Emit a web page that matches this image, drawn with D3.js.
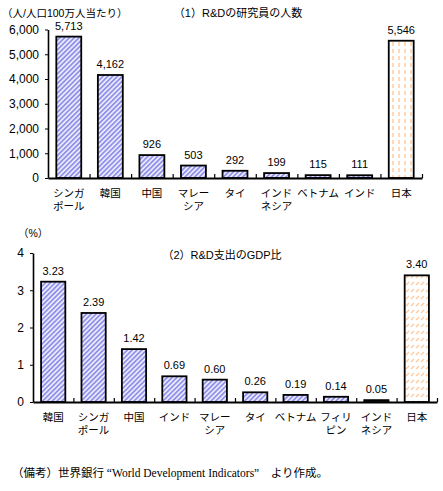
<!DOCTYPE html>
<html>
<head>
<meta charset="utf-8">
<script src="https://cdn.jsdelivr.net/npm/d3@7"></script>
<style>
  body { margin: 0; background: #fff; }
  svg text { font-family: "Liberation Sans", "Noto Sans CJK JP", sans-serif; fill: #000; }
  .axis path, .axis line { stroke: #000; }
  .note { font-family: "Liberation Serif", "Noto Sans CJK JP", serif; }
</style>
</head>
<body>
<div id="chart"></div>
<script>
// data
var researchCats = [["シンガ", "ポール"], ["韓国"], ["中国"], ["マレー", "シア"], ["タイ"], ["インド", "ネシア"], ["ベトナム"], ["インド"], ["日本"]];
var researchVals = [5713, 4162, 926, 503, 292, 199, 115, 111, 5546];
var researchTicks = [0, 1000, 2000, 3000, 4000, 5000, 6000];

var gdpCats = [["韓国"], ["シンガ", "ポール"], ["中国"], ["インド"], ["マレー", "シア"], ["タイ"], ["ベトナム"], ["フィリ", "ピン"], ["インド", "ネシア"], ["日本"]];
var gdpVals = [3.23, 2.39, 1.42, 0.69, 0.60, 0.26, 0.19, 0.14, 0.05, 3.40];
var gdpTicks = [0, 1, 2, 3, 4];

var svg = d3.select("#chart").append("svg")
    .attr("width", 443)
    .attr("height", 491);

var defs = svg.append("defs");

// blue hatch ////
var p = defs.append("pattern")
    .attr("id", "hatchBlue")
    .attr("patternUnits", "userSpaceOnUse")
    .attr("width", 3.4)
    .attr("height", 3.4)
    .attr("patternTransform", "rotate(45)");
p.append("rect").attr("width", 3.4).attr("height", 3.4).attr("fill", "#f4f4ff");
p.append("line").attr("x1", 1).attr("x2", 1).attr("y1", 0).attr("y2", 3.4)
    .attr("stroke", "#8c8ce8").attr("stroke-width", 1.8);

// orange dashed vertical (japan, chart 1)
var p2 = defs.append("pattern")
    .attr("id", "dashOrangeV")
    .attr("patternUnits", "userSpaceOnUse")
    .attr("x", 1)
    .attr("width", 6)
    .attr("height", 7);
p2.append("rect").attr("width", 6).attr("height", 7).attr("fill", "#fff");
p2.append("line").attr("x1", 2).attr("x2", 2).attr("y1", 0).attr("y2", 4)
    .attr("stroke", "#ffc899").attr("stroke-width", 1.4);

// orange dashed diagonal (japan, chart 2)
var p3 = defs.append("pattern")
    .attr("id", "dashOrangeD")
    .attr("patternUnits", "userSpaceOnUse")
    .attr("width", 5)
    .attr("height", 7);
p3.append("rect").attr("width", 5).attr("height", 7).attr("fill", "#fff");
p3.append("line").attr("x1", 1).attr("y1", 5).attr("x2", 4).attr("y2", 2)
    .attr("stroke", "#ffc899").attr("stroke-width", 1.3);

function drawChart(opt) {
  var n = opt.cats.length;

  var x = d3.scaleBand()
      .domain(d3.range(n))
      .range([opt.left, opt.right])
      .paddingInner(0.4)
      .paddingOuter(0.2);

  var xIdx = d3.scaleLinear()
      .domain([0, n])
      .range([opt.left, opt.right]);

  var y = d3.scaleLinear()
      .domain([0, opt.max])
      .range([opt.bottom, opt.top]);

  var g = svg.append("g");

  // bars
  g.selectAll("rect.bar")
      .data(opt.vals)
    .enter().append("rect")
      .attr("class", "bar")
      .attr("x", function(d, i){ return x(i); })
      .attr("y", function(d){ return y(d); })
      .attr("width", x.bandwidth())
      .attr("height", function(d){ return opt.bottom - y(d); })
      .attr("fill", function(d, i){ return i == n - 1 ? opt.lastFill : "url(#hatchBlue)"; })
      .attr("stroke", "#000")
      .attr("stroke-width", 1.8);

  // value labels
  g.selectAll("text.val")
      .data(opt.vals)
    .enter().append("text")
      .attr("class", "val")
      .attr("x", function(d, i){ return x(i) + x.bandwidth() / 2; })
      .attr("y", function(d){ return y(d) - 7; })
      .attr("text-anchor", "middle")
      .attr("font-size", "11px")
      .text(opt.fmt);

  // y axis
  var yAxis = d3.axisLeft(y)
      .tickValues(opt.ticks)
      .tickSize(3)
      .tickSizeOuter(0)
      .tickPadding(6)
      .tickFormat(opt.tickFmt);

  g.append("g")
      .attr("class", "axis")
      .attr("transform", "translate(" + opt.left + ",0)")
      .call(yAxis)
      .call(function(a){
        a.select(".domain").attr("stroke-width", 1.6);
        a.selectAll("text").attr("font-size", "12px");
      });

  // x axis with ticks between categories
  var xAxis = d3.axisBottom(xIdx)
      .tickValues(d3.range(1, n + 1))
      .tickSize(-4)
      .tickSizeOuter(0)
      .tickFormat("");

  g.append("g")
      .attr("class", "axis")
      .attr("transform", "translate(0," + opt.bottom + ")")
      .call(xAxis)
      .call(function(a){
        a.select(".domain").attr("stroke-width", 1.8);
        a.selectAll("line").attr("stroke-width", 1.2);
      });

  // category labels
  var lbl = g.selectAll("text.cat")
      .data(opt.cats)
    .enter().append("text")
      .attr("class", "cat")
      .attr("text-anchor", "middle")
      .attr("font-size", "10.5px")
      .attr("y", opt.bottom + 19);

  lbl.selectAll("tspan")
      .data(function(d, i){ return d.map(function(s){ return {s: s, i: i}; }); })
    .enter().append("tspan")
      .attr("x", function(d){ return x(d.i) + x.bandwidth() / 2; })
      .attr("dy", function(d, j){ return j == 0 ? 0 : 12.5; })
      .text(function(d){ return d.s; });

  // title & unit
  g.append("text")
      .attr("x", opt.titleX)
      .attr("y", opt.titleY)
      .attr("text-anchor", "middle")
      .attr("font-size", "11px")
      .text(opt.title);

  g.append("text")
      .attr("x", opt.unitX)
      .attr("y", opt.unitY)
      .attr("font-size", "10.5px")
      .text(opt.unit);
}

drawChart({
  cats: researchCats, vals: researchVals, ticks: researchTicks, max: 6000,
  left: 48, right: 422, top: 29.5, bottom: 178,
  fmt: d3.format(","), tickFmt: d3.format(","),
  lastFill: "url(#dashOrangeV)",
  title: "（1）R&Dの研究員の人数", titleX: 238, titleY: 17,
  unit: "（人/人口100万人当たり）", unitX: 2, unitY: 17
});

drawChart({
  cats: gdpCats, vals: gdpVals, ticks: gdpTicks, max: 4,
  left: 33, right: 437, top: 253, bottom: 402,
  fmt: d3.format(".2f"), tickFmt: d3.format("d"),
  lastFill: "url(#dashOrangeD)",
  title: "（2）R&D支出のGDP比", titleX: 222, titleY: 259,
  unit: "（%）", unitX: 18, unitY: 237
});

svg.append("text")
    .attr("class", "note")
    .attr("x", 12)
    .attr("y", 477)
    .attr("font-size", "11.5px")
    .text("（備考）世界銀行 “World Development Indicators”　より作成。");
</script>
</body>
</html>
